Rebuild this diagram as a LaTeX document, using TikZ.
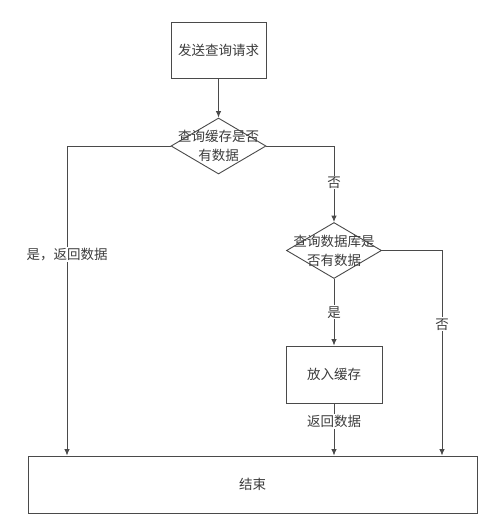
\documentclass[tikz,border=0pt]{standalone}
\usepackage{fontspec}
\setmainfont{Noto Sans CJK SC}
\usetikzlibrary{shapes.geometric,arrows.meta}
\definecolor{ln}{HTML}{4A4A4A}
\definecolor{tx}{HTML}{3C3C3C}
\tikzset{
  every node/.style={font=\fontsize{13.5pt}{19pt}\selectfont, text=tx},
  boxnode/.style={draw=ln, line width=0.9pt, rectangle, inner sep=0pt},
  dianode/.style={draw=ln, line width=0.9pt, diamond, inner sep=0pt, minimum width=95pt, minimum height=56pt},
  lbl/.style={fill=white, inner sep=1pt},
  conn/.style={draw=ln, line width=0.9pt, -{Latex[length=6.5pt,width=5.5pt]}},
  plain/.style={draw=ln, line width=0.9pt}
}
\begin{document}
\begin{tikzpicture}[x=1pt,y=-1pt]
\useasboundingbox[fill=white] (0,0) rectangle (489,519);
\node[boxnode, minimum width=95pt, minimum height=56pt] (req) at (218.5,50) {发送查询请求};
\node[dianode, label={[align=center]center:查询缓存是否\\有数据}] (q1) at (218.5,146) {};
\node[dianode, label={[align=center]center:查询数据库是\\否有数据}] (q2) at (334,250.5) {};
\node[boxnode, minimum width=96pt, minimum height=57pt] (put) at (334,374.5) {放入缓存};
\node[boxnode, minimum width=449pt, minimum height=57pt] (end) at (252.5,484.5) {结束};
\coordinate (c1) at (67,146);
\coordinate (c2) at (334,146);
\coordinate (c3) at (442,250.5);
\draw[conn] (req.south) -- (q1.north);
\draw[conn] (q1.west) -- (c1) -- node[lbl, pos=0.35] {是，返回数据} (c1 |- end.north);
\draw[conn] (q1.east) -- (c2) -- node[lbl, pos=0.48] {否} (q2.north);
\draw[conn] (q2.south) -- node[lbl] {是} (put.north);
\draw[conn] (q2.east) -- (c3) -- node[lbl, pos=0.36] {否} (c3 |- end.north);
\draw[conn] (put.south) -- node[lbl, pos=0.35] {返回数据} (put.south |- end.north);
\end{tikzpicture}
\end{document}
